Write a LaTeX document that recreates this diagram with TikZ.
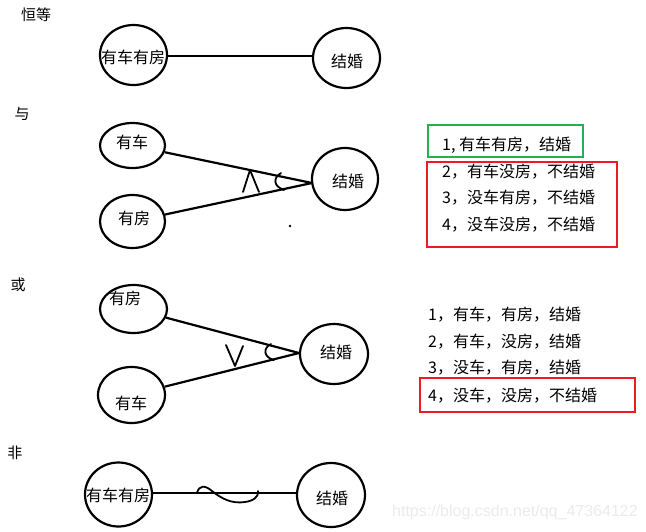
\documentclass[tikz,border=0pt]{standalone}
\usepackage{fontspec}
\setmainfont{Noto Sans CJK SC}
\newfontfamily\wmfont{Liberation Sans}
\usetikzlibrary{shapes.geometric}
\definecolor{boxgreen}{HTML}{22B14C}
\definecolor{boxred}{HTML}{ED1C24}
\begin{document}
\begin{tikzpicture}[x=1pt,y=-1pt,
  ell/.style={draw, ellipse, line width=2.2pt, inner sep=0pt},
  txt/.style={inner sep=0pt, font=\fontsize{16}{18}\selectfont},
  head/.style={inner sep=0pt, font=\fontsize{15}{18}\selectfont},
  row/.style={inner sep=0pt, anchor=west, font=\fontsize{16}{18}\selectfont},
  link/.style={line width=2.2pt},
  thin/.style={line width=1.8pt, line cap=round, line join=round},
  box/.style={line width=2pt}]
\useasboundingbox (0,0) rectangle (646,531);

% ---------- 恒等 ----------
\node[head] (h1) at (36,15) {恒等};
\node[ell, minimum width=67pt, minimum height=60pt] (a1) at (133.5,55) {};
\node[txt] (a1t) at (133,57) {有车有房};
\node[ell, minimum width=67pt, minimum height=60pt] (a2) at (346.5,58) {};
\node[txt] (a2t) at (347,61) {结婚};
\draw[link] (a1.east |- 0,56) -- (a2.west |- 0,56);

% ---------- 与 ----------
\node[head] (h2) at (22,114) {与};
\node[ell, minimum width=65pt, minimum height=45pt] (b1) at (132.5,145.5) {};
\node[txt] (b1t) at (132,142) {有车};
\node[ell, minimum width=65pt, minimum height=53pt] (b2) at (132.5,221.5) {};
\node[txt] (b2t) at (134,218) {有房};
\node[ell, minimum width=66pt, minimum height=62pt] (b3) at (345,179) {};
\node[txt] (b3t) at (348,181) {结婚};
\coordinate (v1) at (312,183);
\draw[link] (b1) -- (v1);
\draw[link] (b2) -- (v1);
\draw[thin] (243,192) -- (250,170) -- (259,192);
\draw[thin] (281,173) .. controls (273,178) and (273,186) .. (284,190);
\fill (290,226) circle (1.3pt);

\draw[box, boxgreen] (428,125) rectangle (583,157);
\draw[box, boxred] (427,162) rectangle (617,247);
\node[row] (r11) at (442,145) {1, 有车有房，结婚};
\node[row] (r12) at (442,172) {2，有车没房，不结婚};
\node[row] (r13) at (442,198) {3，没车有房，不结婚};
\node[row] (r14) at (442,225) {4，没车没房，不结婚};

% ---------- 或 ----------
\node[head] (h3) at (18,285) {或};
\node[ell, minimum width=67pt, minimum height=48pt] (c1) at (133.5,309) {};
\node[txt] (c1t) at (125,298) {有房};
\node[ell, minimum width=67pt, minimum height=56pt] (c2) at (131.5,395) {};
\node[txt] (c2t) at (131,403) {有车};
\node[ell, minimum width=68pt, minimum height=60pt] (c3) at (334,354) {};
\node[txt] (c3t) at (336,352) {结婚};
\coordinate (v2) at (299,353);
\draw[link] (c1) -- (v2);
\draw[link] (c2) -- (v2);
\draw[thin] (226,345) -- (235,366) -- (243,346);
\draw[thin] (271,344) .. controls (263,348) and (263,357) .. (274,360);

\draw[box, boxred] (420,378) rectangle (635,412);
\node[row] (r21) at (428,315) {1，有车，有房，结婚};
\node[row] (r22) at (428,342) {2，有车，没房，结婚};
\node[row] (r23) at (428,368) {3，没车，有房，结婚};
\node[row] (r24) at (428,396) {4，没车，没房，不结婚};

% ---------- 非 ----------
\node[head] (h4) at (15,453) {非};
\node[ell, minimum width=67pt, minimum height=64pt] (d1) at (118.5,494.5) {};
\node[txt] (d1t) at (118,495) {有车有房};
\node[ell, minimum width=68pt, minimum height=64pt] (d2) at (331,495) {};
\node[txt] (d2t) at (332,498) {结婚};
\draw[link] (d1.east |- 0,493) -- (d2.west |- 0,493);
\draw[thin] (197,493) .. controls (199,485) and (205,485) .. (212,491) .. controls (222,499) and (232,504) .. (245,502) .. controls (253,501) and (259,497) .. (258,491);

% watermark
\node[inner sep=0pt, anchor=west, text=black!8, font=\wmfont\fontsize{16}{18}\selectfont] (wm) at (392,512) {https://blog.csdn.net/qq\_47364122};
\end{tikzpicture}
\end{document}
